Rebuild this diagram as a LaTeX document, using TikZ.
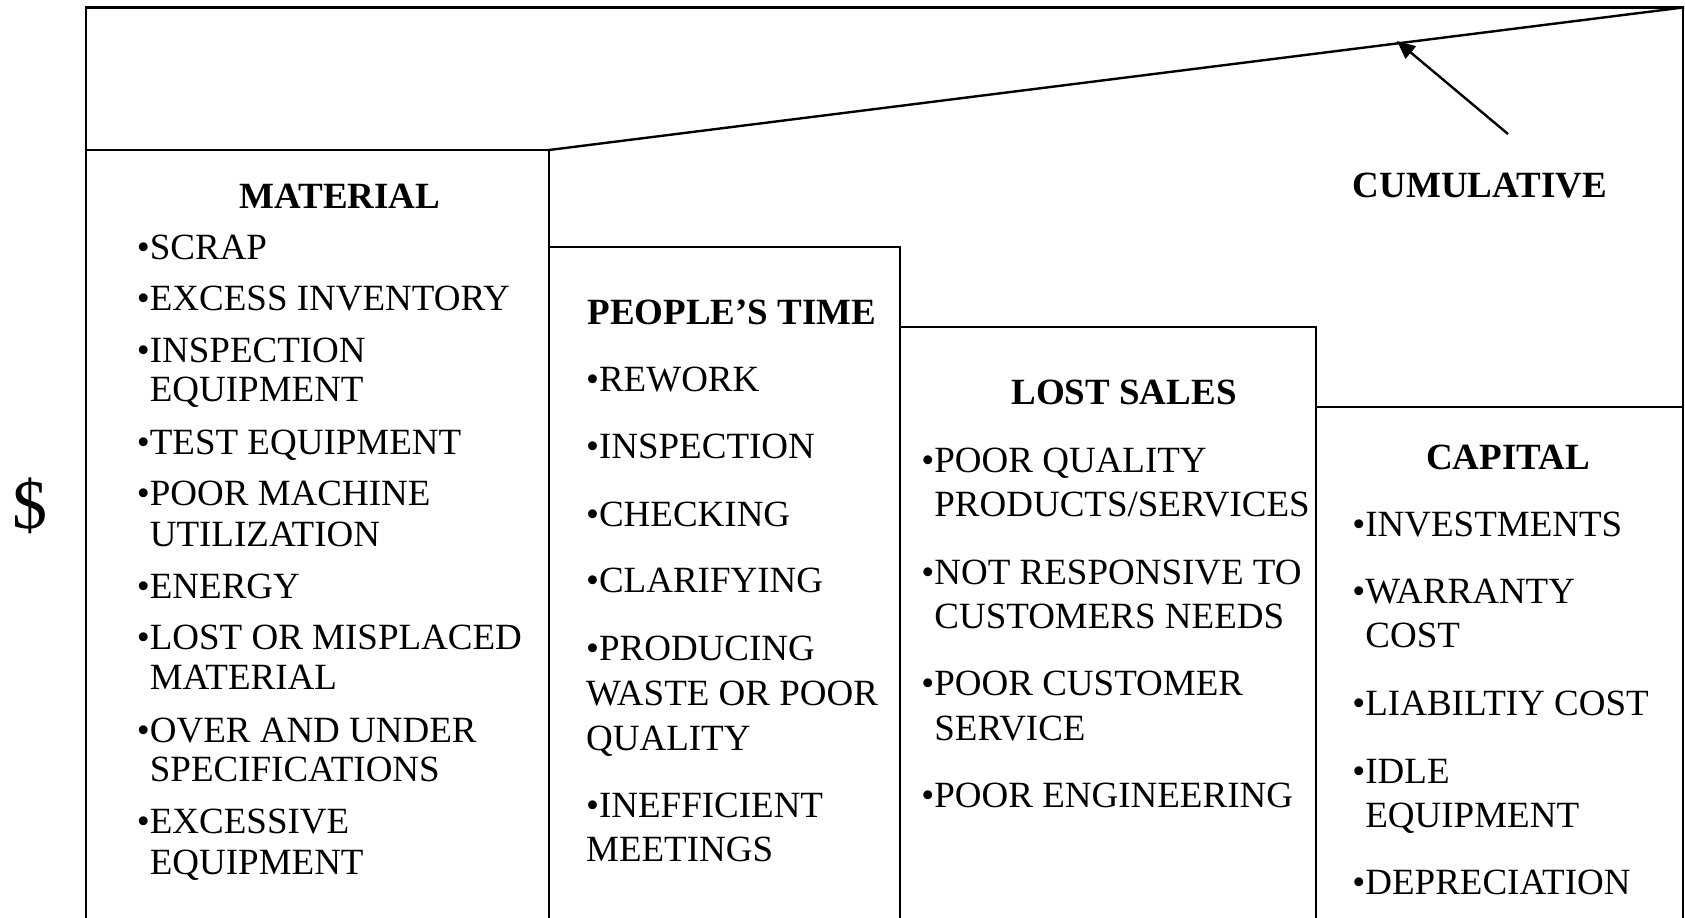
\documentclass[tikz,border=0pt]{standalone}
\usepackage{fontspec}
\setmainfont{Liberation Serif}
\usetikzlibrary{arrows.meta}
\tikzset{
  frame/.style={line width=1.2pt, line cap=rect},
  item/.style={anchor=west, inner sep=0pt, text height=0.655em, text depth=0pt,
    font=\fontsize{18.5pt}{22pt}\selectfont},
  head/.style={anchor=center, inner sep=0pt, text height=0.655em, text depth=0pt,
    font=\fontsize{18.5pt}{22pt}\selectfont\bfseries},
  dollar/.style={anchor=center, inner sep=0pt, font=\fontsize{35pt}{40pt}\selectfont},
  pointer/.style={line width=1.2pt, -{Triangle[length=9pt, width=8pt]}}
}
\newcommand{\cont}{\phantom{•}}
\begin{document}
\begin{tikzpicture}[x=0.5pt, y=-0.5pt]
\useasboundingbox (0,0) rectangle (1685,917);
% frame coordinates
\coordinate (oBL) at (86,917);
\coordinate (oTL) at (86,7.5);
\coordinate (oTR) at (1683,7.5);
\coordinate (oBR) at (1683,917);
\coordinate (mTL) at (86,150);
\coordinate (mTR) at (549,150);
\coordinate (mBR) at (549,917);
\coordinate (pTR) at (900,247);
\coordinate (pTL) at (549,247);
\coordinate (pBR) at (900,917);
\coordinate (lTL) at (900,327);
\coordinate (lTR) at (1316,327);
\coordinate (lBR) at (1316,917);
\coordinate (cTL) at (1316,407);
\coordinate (cTR) at (1683,407);
\coordinate (arrTail) at (1508,134);
\coordinate (arrTip) at (1397,41);
% frame
\draw[frame] (oBL) -- (oTL) -- (oTR) -- (oBR);
\draw[frame] (mTL) -- (mTR) -- (mBR);
\draw[frame] (mTR) -- (oTR);
\draw[frame] (pTL) -- (pTR) -- (pBR);
\draw[frame] (lTL) -- (lTR) -- (lBR);
\draw[frame] (cTL) -- (cTR);
\draw[pointer] (arrTail) -- (arrTip);
\node[dollar] (dol) at (30,506) {\$};
\begin{scope}[yshift=-3pt]
\node[head] (cum) at (1480,185) {CUMULATIVE};
% material
\node[head] (mh) at (340,195.6) {MATERIAL};
\node[item] (m1) at (136.5,247) {•SCRAP};
\node[item] (m2) at (136.5,298) {•EXCESS INVENTORY};
\node[item] (m3a) at (136.5,350) {•INSPECTION};
\node[item] (m3b) at (136.5,389) {\cont EQUIPMENT};
\node[item] (m4) at (136.5,442) {•TEST EQUIPMENT};
\node[item] (m5a) at (136.5,493) {•POOR MACHINE};
\node[item] (m5b) at (136.5,534) {\cont UTILIZATION};
\node[item] (m6) at (136.5,586) {•ENERGY};
\node[item] (m7a) at (136.5,637) {•LOST OR MISPLACED};
\node[item] (m7b) at (136.5,677) {\cont MATERIAL};
\node[item] (m8a) at (136.5,730) {•OVER AND UNDER};
\node[item] (m8b) at (136.5,769) {\cont SPECIFICATIONS};
\node[item] (m9a) at (136.5,821) {•EXCESSIVE};
\node[item] (m9b) at (136.5,862) {\cont EQUIPMENT};
% people's time
\node[head] (ph) at (732,311.6) {PEOPLE’S TIME};
\node[item] (p1) at (585.7,379) {•REWORK};
\node[item] (p2) at (585.7,446) {•INSPECTION};
\node[item] (p3) at (585.7,514) {•CHECKING};
\node[item] (p4) at (585.7,580) {•CLARIFYING};
\node[item] (p5a) at (585.7,648) {•PRODUCING};
\node[item] (p5b) at (585.7,693) {WASTE OR POOR};
\node[item] (p5c) at (585.7,738) {QUALITY};
\node[item] (p6a) at (585.7,805) {•INEFFICIENT};
\node[item] (p6b) at (585.7,849) {MEETINGS};
% lost sales
\node[head] (lh) at (1124,392) {LOST SALES};
\node[item] (l1a) at (921,460) {•POOR QUALITY};
\node[item] (l1b) at (921,504) {\cont PRODUCTS/SERVICES};
\node[item] (l2a) at (921,572) {•NOT RESPONSIVE TO};
\node[item] (l2b) at (921,616) {\cont CUSTOMERS NEEDS};
\node[item] (l3a) at (921,683) {•POOR CUSTOMER};
\node[item] (l3b) at (921,727.5) {\cont SERVICE};
\node[item] (l4) at (921,795) {•POOR ENGINEERING};
% capital
\node[head] (ch) at (1508,457) {CAPITAL};
\node[item] (c1) at (1352,524) {•INVESTMENTS};
\node[item] (c2a) at (1352,591) {•WARRANTY};
\node[item] (c2b) at (1352,635) {\cont COST};
\node[item] (c3) at (1352,703) {•LIABILTIY COST};
\node[item] (c4a) at (1352,770.5) {•IDLE};
\node[item] (c4b) at (1352,814.6) {\cont EQUIPMENT};
\node[item] (c5) at (1352,882) {•DEPRECIATION};
\end{scope}
\end{tikzpicture}
\end{document}
